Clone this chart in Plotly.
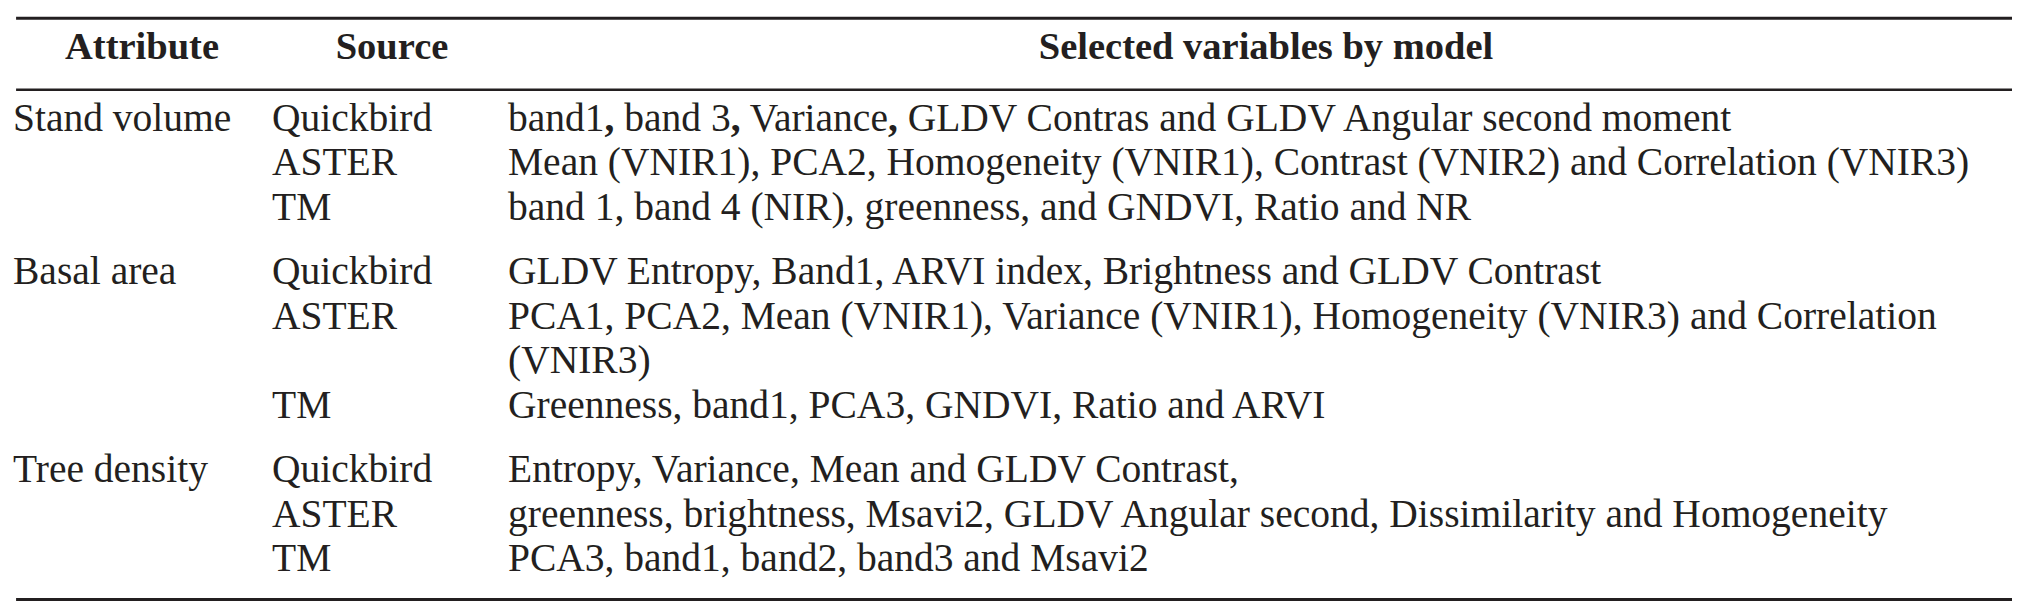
import plotly.graph_objects as go

# table content
headers = ["Attribute", "Source", "Selected variables by model"]
attributes = ["Stand volume", "Basal area", "Tree density"]
sources = ["Quickbird", "ASTER", "TM"]

# one list per source, each a list of printed lines (the ASTER basal area entry wraps)
stand_volume_vars = [
    ["band1<b>,</b> band 3<b>,</b> Variance<b>,</b> GLDV Contras and GLDV Angular second moment"],
    ["Mean (VNIR1), PCA2, Homogeneity (VNIR1), Contrast (VNIR2) and Correlation (VNIR3)"],
    ["band 1, band 4 (NIR), greenness, and GNDVI, Ratio and NR"],
]
basal_area_vars = [
    ["GLDV Entropy, Band1, ARVI index, Brightness and GLDV Contrast"],
    ["PCA1, PCA2, Mean (VNIR1), Variance (VNIR1), Homogeneity (VNIR3) and Correlation",
     "(VNIR3)"],
    ["Greenness, band1, PCA3, GNDVI, Ratio and ARVI"],
]
tree_density_vars = [
    ["Entropy, Variance, Mean and GLDV Contrast,"],
    ["greenness, brightness, Msavi2, GLDV Angular second, Dissimilarity and Homogeneity"],
    ["PCA3, band1, band2, band3 and Msavi2"],
]
variables = [stand_volume_vars, basal_area_vars, tree_density_vars]

# layout helpers
TXT = "#231f20"
FONT = "Liberation Serif, Times New Roman, serif"
GROUP_GAP = 0.45   # extra space between attribute groups, in text lines
COL_X = [5, 264, 500]
HEAD_X = [134, 384, 1258]

# work out the text line each cell sits on
attr_x, attr_y, attr_t = [], [], []
src_x, src_y, src_t = [], [], []
var_x, var_y, var_t = [], [], []
line = 0.0
for gi, attr in enumerate(attributes):
    attr_x.append(COL_X[0]); attr_y.append(line); attr_t.append(attr)
    for si, src in enumerate(sources):
        src_x.append(COL_X[1]); src_y.append(line); src_t.append(src)
        for txt in variables[gi][si]:
            var_x.append(COL_X[2]); var_y.append(line); var_t.append(txt)
            line += 1
    line += GROUP_GAP
last_line = line - GROUP_GAP - 1

fig = go.Figure()
body_font = dict(family=FONT, size=39.5, color=TXT)
for xs, ys, ts in [(attr_x, attr_y, attr_t), (src_x, src_y, src_t), (var_x, var_y, var_t)]:
    fig.add_trace(go.Scatter(x=xs, y=ys, text=ts, mode="text",
                             textposition="middle right", textfont=body_font,
                             hoverinfo="skip", showlegend=False))

fig.add_trace(go.Scatter(x=HEAD_X, y=[-1.6] * 3, text=["<b>%s</b>" % h for h in headers],
                         mode="text", textposition="middle center",
                         textfont=dict(family=FONT, size=38.5, color=TXT),
                         hoverinfo="skip", showlegend=False))

# booktabs style rules
for yy, w in [(-2.31, 3), (-0.70, 2.5), (last_line + 0.85, 3)]:
    fig.add_shape(type="line", xref="paper", yref="y", x0=0.004, x1=1, y0=yy, y1=yy,
                  line=dict(color=TXT, width=w))

fig.update_xaxes(visible=False, range=[0, 2020])
fig.update_yaxes(visible=False, range=[11.01, -2.539])
fig.update_layout(width=2020, height=603, margin=dict(l=0, r=0, t=0, b=0),
                  plot_bgcolor="white", paper_bgcolor="white")

fig.write_html("out.html")
